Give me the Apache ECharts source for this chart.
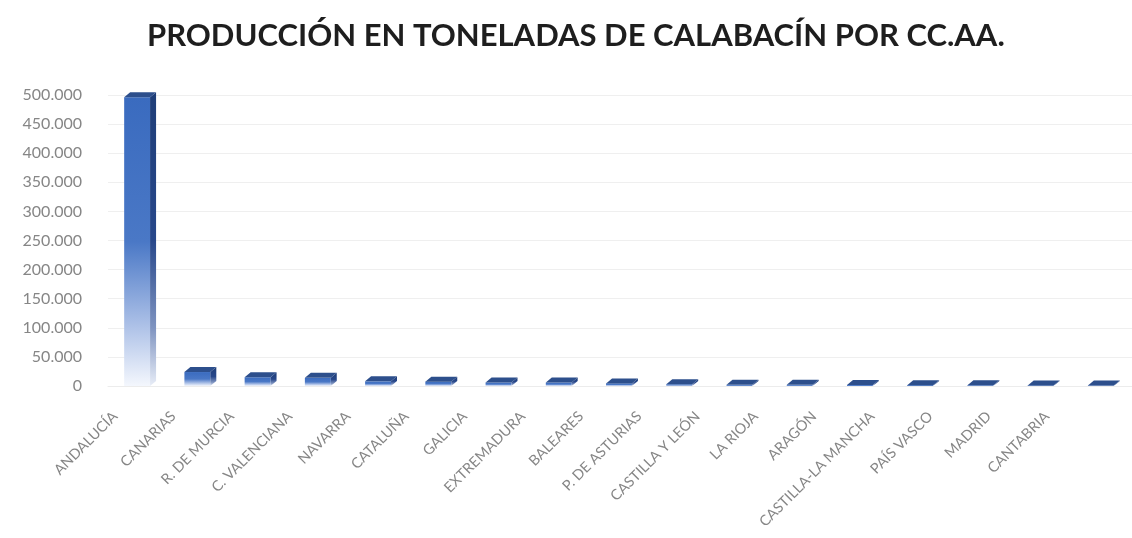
<!DOCTYPE html>
<html>
<head>
<meta charset="utf-8">
<title>Producción de calabacín por CC.AA.</title>
<script src="https://cdn.jsdelivr.net/npm/echarts@6/dist/echarts.min.js"></script>
<style>
  html, body { margin: 0; padding: 0; background: #ffffff; }
  #chart { width: 1132px; height: 538px; }
</style>
</head>
<body>
<div id="chart"></div>
<script>
// Comunidades autónomas, ordered by production
const regions = [
  'ANDALUCÍA', 'CANARIAS', 'R. DE MURCIA', 'C. VALENCIANA', 'NAVARRA',
  'CATALUÑA', 'GALICIA', 'EXTREMADURA', 'BALEARES', 'P. DE ASTURIAS',
  'CASTILLA Y LEÓN', 'LA RIOJA', 'ARAGÓN', 'CASTILLA-LA MANCHA',
  'PAÍS VASCO', 'MADRID', 'CANTABRIA'
];

// Production in tonnes
const tonnes = [
  496000, 24000, 15000, 14000, 8000,
  7500, 6000, 6000, 4500, 3000,
  2000, 2000, 1800, 1500,
  1200, 1000, 800
];

// Value axis range
const yMin = 0;
const yMax = 500000;
const yStep = 50000;

const fmt = v => String(v).replace(/\B(?=(\d{3})+(?!\d))/g, '.');

const chart = echarts.init(document.getElementById('chart'), null, { renderer: 'canvas' });

// Pseudo-3D column: front face, top face and right side face
function renderColumn(params, api) {
  const idx = api.value(0);
  const base = api.coord([idx, 0]);
  const top = api.coord([idx, api.value(1)]);
  const band = api.size([1, 0])[0];
  const w = band * 0.43;
  const dx = 6, dy = 5;
  const x0 = base[0] - (w + dx) / 2 + 2;
  const yb = base[1];
  const yt = top[1];
  const front = new echarts.graphic.LinearGradient(0, 0, 0, 1, [
    { offset: 0, color: '#3a6bbf' },
    { offset: 0.5, color: '#4a78c6' },
    { offset: 0.78, color: '#a9bee6' },
    { offset: 1, color: '#f4f7fd' }
  ]);
  const side = new echarts.graphic.LinearGradient(0, 0, 0, 1, [
    { offset: 0, color: '#1f3e78' },
    { offset: 0.5, color: '#27478a' },
    { offset: 0.8, color: '#7e93c0' },
    { offset: 1, color: '#e8edf7' }
  ]);
  return {
    type: 'group',
    children: [
      {
        type: 'rect',
        shape: { x: x0, y: yt, width: w, height: Math.max(yb - yt, 0) },
        style: { fill: front }
      },
      {
        type: 'polygon',
        shape: { points: [[x0 + w, yt], [x0 + w + dx, yt - dy], [x0 + w + dx, yb - dy], [x0 + w, yb]] },
        style: { fill: side }
      },
      {
        type: 'polygon',
        shape: { points: [[x0, yt], [x0 + w, yt], [x0 + w + dx, yt - dy], [x0 + dx, yt - dy]] },
        style: { fill: '#2d4f8c' }
      }
    ]
  };
}

const option = {
  backgroundColor: '#ffffff',
  animation: false,
  title: {
    text: 'PRODUCCIÓN EN TONELADAS DE CALABACÍN POR CC.AA.',
    left: 142,
    top: 15,
    textStyle: {
      fontFamily: 'Lato',
      fontWeight: 'bold',
      fontSize: 31,
      color: '#1e1e1e'
    }
  },
  grid: [
    { left: 108, right: -4, top: 95, bottom: 152 },
    { left: 86, right: 56, top: 95, bottom: 152 }
  ],
  xAxis: [
    {
      type: 'category',
      gridIndex: 0,
      data: regions,
      axisLine: { show: true, lineStyle: { color: '#ececec' } },
      axisTick: { show: false },
      axisLabel: { show: false }
    },
    {
      type: 'category',
      gridIndex: 1,
      data: regions,
      axisLine: { show: false },
      axisTick: { show: false },
      axisLabel: {
        rotate: 45,
        margin: 28,
        interval: 0,
        fontFamily: 'Lato',
        fontSize: 14.5,
        color: '#868686'
      }
    }
  ],
  yAxis: [
    {
      type: 'value',
      gridIndex: 0,
      min: yMin,
      max: yMax,
      interval: yStep,
      axisLine: { show: false },
      axisTick: { show: false },
      splitLine: { lineStyle: { color: '#efefef' } },
      axisLabel: {
        margin: 26,
        fontFamily: 'Lato',
        fontSize: 16,
        color: '#868686',
        formatter: v => fmt(v)
      }
    },
    {
      type: 'value',
      gridIndex: 1,
      min: yMin,
      max: yMax,
      show: false
    }
  ],
  series: [
    {
      type: 'custom',
      xAxisIndex: 0,
      yAxisIndex: 0,
      renderItem: renderColumn,
      encode: { x: 0, y: 1 },
      data: tonnes.map((v, i) => [i, v])
    }
  ]
};

chart.setOption(option);
</script>
</body>
</html>
